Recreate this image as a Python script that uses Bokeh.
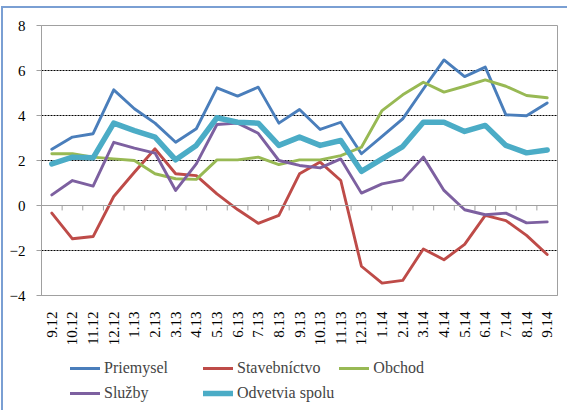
from bokeh.plotting import figure
from bokeh.layouts import column
from bokeh.models import Range1d, FixedTicker, Span, Legend, LegendItem
from bokeh.embed import file_html
from bokeh.resources import INLINE
from math import pi

categories = ["9.12", "10.12", "11.12", "12.12", "1.13", "2.13", "3.13", "4.13", "5.13",
              "6.13", "7.13", "8.13", "9.13", "10.13", "11.13", "12.13", "1.14", "2.14",
              "3.14", "4.14", "5.14", "6.14", "7.14", "8.14", "9.14"]

priemysel = [2.5, 3.04, 3.19, 5.14, 4.3, 3.66, 2.81, 3.41, 5.23, 4.86, 5.26, 3.66, 4.27,
             3.38, 3.7, 2.3, 3.07, 3.85, 5.18, 6.47, 5.73, 6.15, 4.03, 3.99, 4.56]
stavebnictvo = [-0.34, -1.48, -1.38, 0.4, 1.48, 2.52, 1.41, 1.33, 0.52, -0.18, -0.79, -0.44,
                1.41, 1.93, 1.11, -2.7, -3.45, -3.33, -1.93, -2.41, -1.73, -0.44, -0.67, -1.33, -2.18]
obchod = [2.3, 2.3, 2.15, 2.07, 2.0, 1.41, 1.19, 1.16, 2.03, 2.03, 2.15, 1.82, 2.03, 2.03,
          2.22, 2.59, 4.22, 4.92, 5.48, 5.04, 5.3, 5.58, 5.3, 4.89, 4.79]
sluzby = [0.47, 1.11, 0.86, 2.81, 2.55, 2.33, 0.67, 1.85, 3.6, 3.66, 3.21, 2.0, 1.78, 1.67,
          2.07, 0.55, 0.96, 1.14, 2.15, 0.67, -0.19, -0.41, -0.34, -0.77, -0.73]
spolu = [1.85, 2.15, 2.12, 3.66, 3.33, 3.04, 2.03, 2.67, 3.9, 3.7, 3.66, 2.67, 3.04, 2.67,
         2.89, 1.52, 2.07, 2.62, 3.7, 3.7, 3.29, 3.56, 2.67, 2.34, 2.47]

series = [
    ("Priemysel", priemysel, "#4A7EBB", 2.9),
    ("Stavebníctvo", stavebnictvo, "#BE4B48", 2.9),
    ("Obchod", obchod, "#98B954", 2.9),
    ("Služby", sluzby, "#7D60A0", 2.9),
    ("Odvetvia spolu", spolu, "#4BACC6", 5.5),
]

y_ticks = [-4, -2, 0, 2, 4, 6, 8]
FONT = "'Liberation Serif', 'Times New Roman', serif"

n = len(categories)
xs = list(range(n))

p = figure(width=564, height=342, output_backend="svg", toolbar_location=None,
           x_range=Range1d(-0.5, n - 0.5), y_range=Range1d(-4, 8),
           min_border_left=38, min_border_right=10, min_border_top=17, min_border_bottom=55)

p.outline_line_color = "#A0A0A0"
p.outline_line_width = 1

# y axis
p.yaxis.ticker = FixedTicker(ticks=y_ticks)
p.yaxis.axis_line_color = "#A0A0A0"
p.yaxis.major_tick_line_color = "#A0A0A0"
p.yaxis.major_tick_out = 5
p.yaxis.major_tick_in = 0
p.yaxis.minor_tick_line_color = None
p.yaxis.major_label_standoff = 11
p.yaxis.major_label_text_font = FONT
p.yaxis.major_label_text_font_size = "15px"
p.yaxis.major_label_text_color = "black"

# x axis (labels at bottom)
p.xaxis.ticker = FixedTicker(ticks=xs)
p.xaxis.major_label_overrides = {i: c for i, c in enumerate(categories)}
p.xaxis.major_label_orientation = pi / 2
p.xaxis.axis_line_color = "#A0A0A0"
p.xaxis.major_tick_line_color = None
p.xaxis.minor_tick_line_color = None
p.xaxis.major_label_standoff = 10
p.xaxis.major_label_text_font = FONT
p.xaxis.major_label_text_font_size = "15px"
p.xaxis.major_label_text_color = "black"

# grid
p.xgrid.grid_line_color = None
p.ygrid.ticker = FixedTicker(ticks=[t for t in y_ticks if t not in (0, -4)])
p.ygrid.grid_line_color = "black"
p.ygrid.grid_line_dash = "2 1"
p.ygrid.grid_line_width = 1

# category axis line at 0 with boundary ticks
p.add_layout(Span(location=0, dimension="width", line_color="#A0A0A0", line_width=1))
bounds = [i - 0.5 for i in range(n + 1)]
p.segment(x0=bounds, x1=bounds, y0=[0] * len(bounds), y1=[-0.22] * len(bounds),
          line_color="#A0A0A0", line_width=1)

for name, vals, color, w in series:
    p.line(xs, vals, line_color=color, line_width=w, line_join="round", line_cap="round")

# legend-only figure below (its lines lie outside its visible range)
lf = figure(width=564, height=60, output_backend="svg", toolbar_location=None,
            x_range=Range1d(-0.5, n - 0.5), y_range=Range1d(100, 101),
            x_axis_type=None, y_axis_type=None,
            min_border_left=0, min_border_right=0, min_border_top=0, min_border_bottom=0)
lf.outline_line_color = None
lf.xgrid.grid_line_color = None
lf.ygrid.grid_line_color = None
items = []
for name, vals, color, w in series:
    r = lf.line(xs, vals, line_color=color, line_width=w, line_cap="round")
    items.append(LegendItem(label=name, renderers=[r]))

legend = Legend(items=items, location=(29, 7), orientation="horizontal", ncols=3,
                padding=0, margin=0, spacing=5, border_line_color=None,
                background_fill_alpha=0, glyph_width=30, glyph_height=20,
                label_height=20, label_width=94, label_standoff=4,
                label_text_font=FONT, label_text_font_size="16px")
lf.add_layout(legend, "center")

layout = column(p, lf, spacing=0)
layout.styles = {"border-top": "2px solid #7A9FD3", "border-left": "2px solid #7A9FD3",
                 "margin-top": "6px", "margin-left": "1px"}

open("out.html", "w").write(file_html(layout, INLINE))
